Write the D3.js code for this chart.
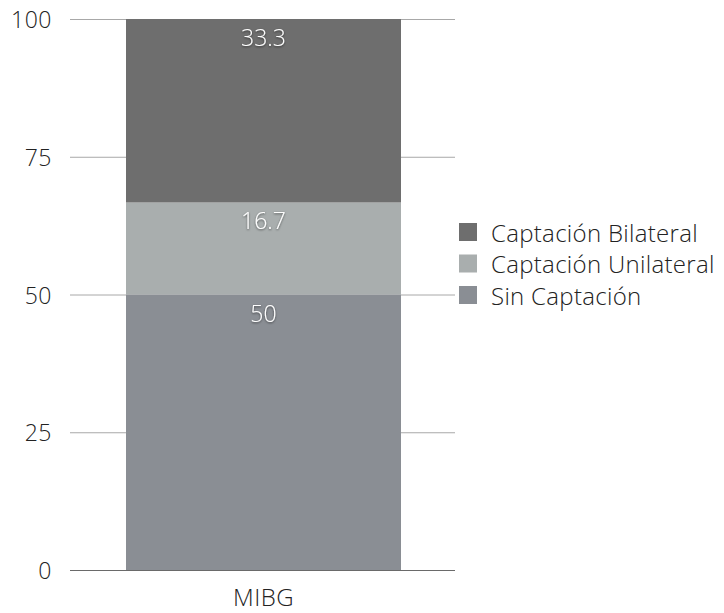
<!DOCTYPE html>
<html>
<head>
<meta charset="utf-8">
<script src="https://cdn.jsdelivr.net/npm/d3@7"></script>
<style>
  html, body { margin: 0; padding: 0; background: #fff; }
  svg text { font-family: "Open Sans", "Liberation Sans", sans-serif; font-weight: 300; }
</style>
</head>
<body>
<svg id="chart" width="724" height="613"></svg>
<script>
// Stacked bar: MIBG uptake distribution (%)
const categories = ["MIBG"];
const seriesNames = ["Sin Captación", "Captación Unilateral", "Captación Bilateral"];
const sinCaptacion = [50];
const captacionUnilateral = [16.7];
const captacionBilateral = [33.3];
const yTicks = [0, 25, 50, 75, 100];
const colors = ["#8a8e94", "#a9aeae", "#6e6e6e"];

const rows = categories.map((c, i) => ({
  cat: c,
  "Sin Captación": sinCaptacion[i],
  "Captación Unilateral": captacionUnilateral[i],
  "Captación Bilateral": captacionBilateral[i]
}));
const stacked = d3.stack().keys(seriesNames)(rows);

const svg = d3.select("#chart");
const plot = { left: 70, right: 455, top: 19, bottom: 570 };

const x = d3.scaleBand().domain(categories).range([126, 401]).padding(0);
const y = d3.scaleLinear().domain([0, 100]).range([plot.bottom, plot.top]);

// Gridlines + tick labels
const grid = svg.append("g");
grid.selectAll("line").data(yTicks).join("line")
  .attr("x1", plot.left).attr("x2", plot.right)
  .attr("y1", d => y(d) + 0.5).attr("y2", d => y(d) + 0.5)
  .attr("stroke", d => d === 0 ? "#7d7d7d" : "#a8a8a8")
  .attr("stroke-width", 1);

const yAxis = d3.axisLeft(y).tickValues(yTicks).tickSize(0).tickPadding(0);
const ya = svg.append("g").attr("transform", `translate(${plot.left - 18},0)`).call(yAxis);
ya.select(".domain").remove();
ya.selectAll("text").attr("font-size", 23).attr("fill", "#222").attr("dy", 8.5)
  .attr("letter-spacing", 0.5);

// Bars
const layers = svg.append("g").selectAll("g").data(stacked).join("g")
  .attr("fill", (d, i) => colors[i]);
layers.selectAll("rect").data(d => d).join("rect")
  .attr("x", d => x(d.data.cat))
  .attr("width", x.bandwidth())
  .attr("y", d => y(d[1]))
  .attr("height", d => y(d[0]) - y(d[1]));

// Redraw zero line over bar bottom
svg.append("line").attr("x1", plot.left).attr("x2", plot.right)
  .attr("y1", y(0) + 0.5).attr("y2", y(0) + 0.5).attr("stroke", "#6a6a6a");

// Value labels with soft shadow
const defs = svg.append("defs");
const f = defs.append("filter").attr("id", "shadow").attr("x", "-20%").attr("y", "-20%").attr("width", "140%").attr("height", "140%");
f.append("feDropShadow").attr("dx", 0).attr("dy", 1).attr("stdDeviation", 0.8).attr("flood-color", "#000").attr("flood-opacity", 0.55);

stacked.forEach((layer, i) => {
  svg.append("g").selectAll("text").data(layer).join("text")
    .attr("x", d => x(d.data.cat) + x.bandwidth() / 2)
    .attr("y", d => y(d[1]) + 27)
    .attr("text-anchor", "middle")
    .attr("font-size", 23)
    .attr("fill", "#fff")
    .attr("filter", "url(#shadow)")
    .text(d => +(d[1] - d[0]).toFixed(1));
});

// Category label
svg.append("g").selectAll("text").data(categories).join("text")
  .attr("x", d => x(d) + x.bandwidth() / 2)
  .attr("y", 606)
  .attr("text-anchor", "middle")
  .attr("font-size", 24)
  .attr("letter-spacing", 0.5)
  .attr("fill", "#222")
  .text(d => d);

// Legend (top series first)
const legendItems = seriesNames.map((s, i) => ({ name: s, color: colors[i] })).reverse();
const lg = svg.append("g").attr("transform", "translate(459,232)");
const item = lg.selectAll("g").data(legendItems).join("g")
  .attr("transform", (d, i) => `translate(0,${i * 31.5})`);
item.append("rect").attr("x", 0).attr("y", -9).attr("width", 18).attr("height", 18).attr("fill", d => d.color);
item.append("text").attr("x", 32).attr("y", 9.5)
  .attr("font-size", 24).attr("letter-spacing", 0.3).attr("fill", "#222").text(d => d.name);
</script>
</body>
</html>
